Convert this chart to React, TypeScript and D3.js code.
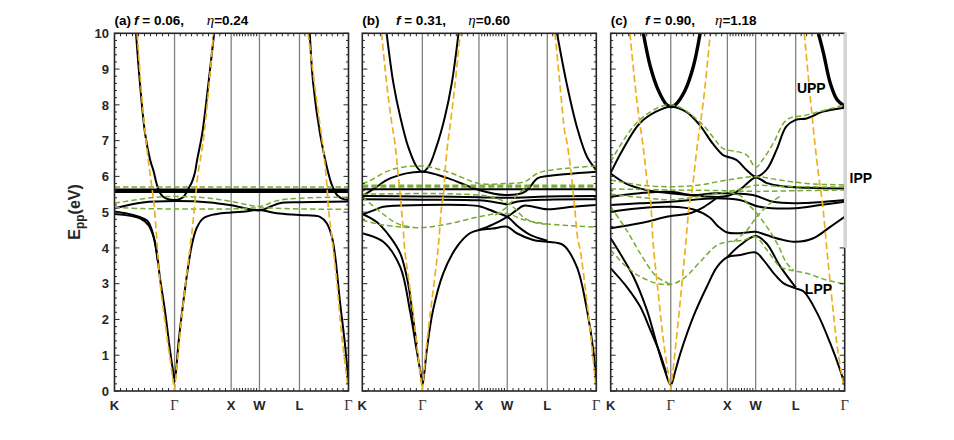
import React from "react";
import * as d3 from "d3";

type Pt = [number, number];

// ---------- axes / labels ----------
const kLabels = ["K", "Γ", "X", "W", "L", "Γ"];
const kNodes = [0, 1.061, 2.061, 2.561, 3.268, 4.134];
const kTickDivs = [10, 10, 10, 7, 9];
const eTicks = [0, 1, 2, 3, 4, 5, 6, 7, 8, 9, 10];
const panelTags = ["(a)", "(b)", "(c)"];
const fValues = ["0.06", "0.31", "0.90"];
const etaValues = ["0.24", "0.60", "1.18"];
const branchLabels: { text: string; k: number; e: number }[] = [
  { text: "UPP", k: 3.29, e: 8.33 },
  { text: "IPP", k: 4.22, e: 5.81 },
  { text: "LPP", k: 3.43, e: 2.71 },
];

// ---------- panel (a) ----------
const aBlack: Pt[][] = [
  [[0,4.95],[0.45,4.83],[0.6,4.64],[0.69,4.31],[0.75,3.85],[0.80,3.2],[0.89,2.26],[0.98,1.15],[1.035,0.55],[1.061,0.26],[1.09,0.6],[1.13,1.33],[1.22,2.54],[1.30,3.47],[1.36,4.03],[1.45,4.55],[1.57,4.83],[1.81,4.95],[2.061,4.99],[2.31,5.02],[2.561,5.06],[2.87,4.97],[3.268,4.92],[3.63,4.87],[3.75,4.69],[3.84,4.31],[3.90,3.75],[3.98,2.54],[4.07,1.33],[4.134,0.2]],
  [[0,5.02],[0.33,4.92],[0.58,4.76],[0.66,4.5],[0.72,4.1],[0.76,3.65]],
  [[0,5.11],[0.5,5.27],[1.061,5.31],[1.69,5.27],[2.061,5.19],[2.561,5.05],[2.75,5.15],[2.92,5.25],[3.268,5.28],[4.134,5.30]],
  [[0.38,10],[0.45,8.6],[0.54,7.2],[0.63,6.46],[0.69,6.15],[0.75,5.76],[0.80,5.55],[0.86,5.43],[0.95,5.36],[1.061,5.34],[1.16,5.37],[1.22,5.43],[1.27,5.55],[1.31,5.67],[1.37,5.85],[1.42,6.1],[1.46,6.46],[1.55,7.2],[1.66,8.6],[1.76,10]],
  [[3.45,10],[3.51,8.6],[3.63,7.2],[3.75,6.27],[3.84,5.76],[3.93,5.48],[4.02,5.38],[4.134,5.34]],
  [[0,5.565],[4.134,5.565]],
  [[0,5.6],[4.134,5.6]],
  [[0,5.635],[4.134,5.635]],
];
const aGreen: Pt[][] = [
  [[0,5.70],[4.134,5.70]],
  [[0,5.25],[0.69,5.41],[1.061,5.44],[1.69,5.39],[2.16,5.27],[2.561,5.16],[2.87,5.32],[3.268,5.39],[4.134,5.42]],
  [[0,5.13],[0.5,5.10],[1.061,5.09],[2.061,5.09],[2.561,5.12],[3.268,5.09],[4.134,5.08]],
];
const aOrange: Pt[][] = [
  [[0.40,10],[0.50,7.9],[0.60,6.4],[0.66,5.7],[0.70,5.2],[0.74,4.4],[0.80,3.1],[0.92,1.6],[1.061,0]],
  [[1.061,0],[1.13,1.15],[1.22,2.54],[1.33,3.94],[1.38,4.6],[1.42,5.25],[1.47,6.0],[1.56,6.9],[1.65,8.2],[1.75,10]],
  [[3.42,10],[3.57,8.14],[3.69,6.74],[3.75,5.8],[3.78,5.1],[3.84,4.3],[3.93,3.01],[4.01,1.61],[4.134,0]],
];

// ---------- panel (b) ----------
const bBlack: Pt[][] = [
  [[0.43,10],[0.55,8.6],[0.67,7.67],[0.81,6.83],[0.96,6.27],[1.061,6.13],[1.17,6.27],[1.31,6.83],[1.46,7.67],[1.58,8.6],[1.70,10]],
  [[3.44,10],[3.61,8.6],[3.79,7.39],[3.97,6.55],[4.134,6.18]],
  [[0,5.45],[0.2,5.65],[0.5,5.95],[1.061,6.13],[1.51,5.95],[2.061,5.62],[2.52,5.48],[2.87,5.57],[3.10,5.95],[3.268,6.01],[4.134,6.13]],
  [[0,5.64],[4.134,5.64]],
  [[0,5.45],[1.061,5.44],[2.061,5.42],[2.561,5.40],[3.268,5.44],[4.134,5.45]],
  [[0,5.36],[1.061,5.35],[2.061,5.33],[2.45,5.25],[2.561,5.22],[2.75,5.30],[3.268,5.35],[4.134,5.36]],
  [[0,4.93],[0.2,5.05],[0.37,5.15],[1.061,5.2],[1.8,5.2],[2.08,5.16],[2.35,5.0],[2.561,4.87],[2.75,4.6],[2.95,4.38],[3.268,4.2]],
  [[2.061,4.50],[2.3,4.65],[2.561,4.87],[2.72,5.05],[2.85,5.18],[3.268,5.08],[3.7,5.15],[4.134,5.2]],
  [[0,4.41],[0.37,4.17],[0.67,3.47],[0.84,2.26],[0.96,1.15],[1.03,0.5],[1.061,0.17],[1.095,0.5],[1.14,1.15],[1.25,2.26],[1.43,3.29],[1.67,4.03],[1.90,4.41],[2.061,4.50],[2.30,4.54],[2.561,4.59],[2.73,4.41],[3.02,4.22],[3.268,4.17],[3.55,4.08],[3.79,3.47],[3.97,2.26],[4.08,1.15],[4.134,0.21]],
  [[0,4.95],[0.25,4.73],[0.49,4.31],[0.67,3.85],[0.81,3.0],[0.90,2.0],[0.96,1.3]],
];
const bGreen: Pt[][] = [
  [[0,5.80],[0.10,5.85],[0.5,6.18],[1.061,6.29],[1.57,6.09],[2.061,5.80],[2.52,5.80],[2.87,5.85],[3.10,6.09],[3.45,6.2],[4.134,6.29]],
  [[0,4.78],[0.37,4.64],[1.061,4.57],[1.57,4.69],[2.061,4.87],[2.52,4.97],[2.87,4.78],[3.28,4.67],[4.134,4.58]],
  [[0,5.42],[0.28,5.06],[0.51,4.78],[0.69,4.64],[0.9,4.58]],
  [[0,5.5],[1.061,5.52],[1.8,5.5],[2.28,5.43],[2.52,5.29],[2.69,5.11],[2.87,4.83],[3.10,4.69],[3.28,4.67]],
  [[2.35,4.92],[2.561,5.15],[2.75,5.5],[2.95,5.75]],
];
const bGreenThick: Pt[][] = [
  [[0,5.73],[4.134,5.73]],
];
const bOrange: Pt[][] = [
  [[0.34,10],[0.43,8.6],[0.51,7.6],[0.57,7.0],[0.63,6.1],[0.67,5.5],[0.69,5.1],[0.72,4.6],[0.75,3.94],[0.87,2.54],[0.96,1.33],[1.061,0]],
  [[1.061,0],[1.14,1.33],[1.23,2.54],[1.34,4.0],[1.40,5.15],[1.435,5.5],[1.46,6.09],[1.50,6.8],[1.55,7.4],[1.64,8.6],[1.73,10]],
  [[3.405,10],[3.49,8.6],[3.58,7.2],[3.61,7.0],[3.69,6.09],[3.75,5.15],[3.81,4.22],[3.85,3.94],[3.965,2.54],[4.05,1.33],[4.134,0]],
];

// ---------- panel (c) ----------
const cBlackThick: Pt[][] = [
  [[0.577,10],[0.70,9.07],[0.84,8.41],[0.99,8.0],[1.061,7.95],[1.14,8.0],[1.315,8.41],[1.46,9.07],[1.58,10]],
  [[3.67,10],[3.76,9.44],[3.88,8.6],[4.0,8.14],[4.134,7.96]],
];
const cBlack: Pt[][] = [
  [[0,6.1],[0.21,6.74],[0.51,7.48],[0.80,7.81],[1.061,7.95],[1.33,7.81],[1.57,7.44],[1.80,6.92],[1.98,6.6],[2.061,6.55],[2.22,6.46],[2.40,6.18],[2.561,5.99],[2.75,6.18],[2.93,6.74],[3.10,7.39],[3.268,7.58],[3.46,7.62],[3.75,7.81],[4.134,7.92]],
  [[0,6.08],[0.27,5.8],[0.63,5.62],[1.061,5.53],[1.57,5.45],[2.061,5.45],[2.3,5.65],[2.561,5.97],[2.75,5.82],[3.0,5.73],[3.5,5.68],[4.134,5.66]],
  [[0,5.43],[0.51,5.53],[1.061,5.57],[1.45,5.48],[1.86,5.53],[2.51,5.48],[2.87,5.29],[3.268,5.25],[3.7,5.28],[4.134,5.34]],
  [[0,5.2],[0.51,5.25],[1.061,5.29],[1.86,5.39],[2.28,5.34],[2.63,5.15],[3.268,5.11],[3.7,5.2],[4.134,5.29]],
  [[0,5.01],[0.51,5.11],[1.061,5.15],[1.45,5.08],[1.75,4.85],[1.9,4.6],[2.061,4.43],[2.28,4.41],[2.561,4.45],[2.75,4.36],[3.0,4.24],[3.268,4.17],[3.58,4.27],[3.88,4.59],[4.134,4.87]],
  [[0,4.55],[0.51,4.69],[1.061,4.89],[1.4,4.97],[1.65,5.15],[1.86,5.38]],
  [[0,4.27],[0.165,3.85],[0.40,3.2],[0.64,2.26],[0.81,1.33],[0.95,0.6],[1.061,0.17],[1.14,0.55],[1.23,1.05],[1.46,2.08],[1.70,2.92],[1.88,3.47],[2.061,3.74],[2.29,3.8],[2.561,3.87],[2.70,3.66],[2.88,3.29],[3.055,3.01],[3.268,2.87],[3.41,2.78],[3.65,2.17],[3.88,1.33],[4.05,0.6],[4.134,0.17]],
  [[0,3.43],[0.28,2.92],[0.52,2.36],[0.70,1.71],[0.87,1.05],[0.98,0.5]],
  [[2.061,3.74],[2.29,4.08],[2.561,4.33],[2.75,4.13],[3.0,3.47],[3.268,2.90]],
];
const cGreen: Pt[][] = [
  [[0,6.41],[0.51,7.58],[1.061,8.0],[1.57,7.53],[1.98,6.78],[2.061,6.74],[2.40,6.6],[2.561,6.25],[2.70,6.5],[2.87,6.92],[3.11,7.58],[3.47,7.72],[4.134,8.0]],
  [[0,5.9],[0.51,5.76],[1.061,5.71],[1.57,5.76],[2.061,5.9],[2.561,5.99],[2.98,5.9],[3.46,5.8],[4.134,5.76]],
  [[0,5.65],[1.061,5.62],[2.061,5.6],[2.561,5.58],[3.268,5.6],[4.134,5.62]],
  [[0,5.5],[0.6,5.4],[1.061,5.35],[1.8,5.5],[2.3,5.65],[2.561,5.75],[3.0,5.72],[4.134,5.7]],
  [[2.17,4.17],[2.41,4.5],[2.58,4.87],[2.82,5.25],[3.0,5.45]],
  [[2.1,5.55],[2.3,5.45],[2.41,5.25],[2.58,4.97],[2.76,4.59],[2.94,4.13],[3.11,3.57],[3.23,3.38]],
  [[0,3.94],[0.28,3.47],[0.52,3.2],[0.81,3.01],[1.061,2.98],[1.29,3.15],[1.58,3.61],[1.88,4.08],[2.07,4.17],[2.35,4.22],[2.561,4.31],[2.76,3.94],[3.0,3.47],[3.17,3.38],[3.46,3.29],[3.82,3.1],[4.134,2.99]],
  [[0,5.15],[0.28,4.5],[0.52,3.85],[0.81,3.2],[1.061,2.98]],
];
const cOrange: Pt[][] = [
  [[0.34,10],[0.46,8.14],[0.58,6.74],[0.67,5.53],[0.70,5.34],[0.75,4.13],[0.84,2.73],[0.93,1.43],[1.061,0]],
  [[1.061,0],[1.14,1.15],[1.23,2.54],[1.315,3.94],[1.40,5.34],[1.43,5.53],[1.52,6.74],[1.64,8.14],[1.76,10]],
  [[3.42,10],[3.53,8.14],[3.62,6.74],[3.70,5.71],[3.735,5.34],[3.82,3.94],[3.91,2.54],[4.01,1.15],[4.134,0]],
];

// ---------- layout ----------
const W = 954, H = 440;
const panelX = [114.5, 362.3, 610.7];
const panelW = 234;
const TOP = 33.3, BOTTOM = 391;
const fOffset = [19.5, 33.7, 34.3];
const etaOffset = [92.2, 106, 104.3];
const BLACK = "#000";
const GREEN = "#77AC30";
const ORANGE = "#EDB120";
const SANS = "'Liberation Sans', Arial, Helvetica, sans-serif";
const SERIF = "'Liberation Serif', 'Times New Roman', serif";

const panels = [
  { black: aBlack, blackThick: [] as Pt[][], green: aGreen, greenThick: [] as Pt[][], orange: aOrange },
  { black: bBlack, blackThick: [] as Pt[][], green: bGreen, greenThick: bGreenThick, orange: bOrange },
  { black: cBlack, blackThick: cBlackThick, green: cGreen, greenThick: [] as Pt[][], orange: cOrange },
];

const x = d3.scaleLinear().domain([kNodes[0], kNodes[kNodes.length - 1]]).range([0, panelW]);
const y = d3.scaleLinear().domain([0, 10]).range([BOTTOM, TOP]);
const line = d3
  .line<Pt>()
  .x((d) => x(d[0]))
  .y((d) => y(d[1]))
  .curve(d3.curveCatmullRom.alpha(0.5));

const xMinor: number[] = [];
kTickDivs.forEach((n, s) => {
  for (let j = 1; j < n; j++) xMinor.push(kNodes[s] + ((kNodes[s + 1] - kNodes[s]) * j) / n);
});
const yMinor: number[] = d3.range(1, 50).map((i) => i * 0.2).filter((v) => Math.abs(v - Math.round(v)) > 0.01);

function Panel({ i }: { i: number }) {
  const p = panels[i];
  const x0 = panelX[i];
  const clipId = `clip${i}`;
  const isC = i === 2;
  const grayTopE = 4.0;
  return (
    <g transform={`translate(${x0},0)`}>
      <defs>
        <clipPath id={clipId}>
          <rect x={0} y={TOP} width={panelW} height={BOTTOM - TOP} />
        </clipPath>
      </defs>
      <rect x={0} y={TOP} width={panelW} height={BOTTOM - TOP} fill="#fff" />
      {kNodes.slice(1, -1).map((k, j) => (
        <line key={j} x1={x(k)} x2={x(k)} y1={TOP} y2={BOTTOM} stroke="#808080" strokeWidth={1.3} />
      ))}
      <g clipPath={`url(#${clipId})`} fill="none" strokeLinejoin="round">
        {p.black.map((c, j) => (
          <path key={"b" + j} d={line(c) || ""} stroke={BLACK} strokeWidth={2} />
        ))}
        {p.blackThick.map((c, j) => (
          <path key={"bt" + j} d={line(c) || ""} stroke={BLACK} strokeWidth={3.4} />
        ))}
        {p.green.map((c, j) => (
          <path key={"g" + j} d={line(c) || ""} stroke={GREEN} strokeWidth={1.5} strokeDasharray="5.5,3" />
        ))}
        {p.greenThick.map((c, j) => (
          <path key={"gt" + j} d={line(c) || ""} stroke={GREEN} strokeWidth={3.2} strokeDasharray="6,3" />
        ))}
        {p.orange.map((c, j) => (
          <path key={"o" + j} d={line(c) || ""} stroke={ORANGE} strokeWidth={1.7} strokeDasharray="7,3.5" />
        ))}
      </g>
      <g stroke="#262626" strokeWidth={1}>
        {eTicks.map((v) => (
          <g key={"ym" + v}>
            <line x1={0} x2={5} y1={y(v)} y2={y(v)} />
            {(!isC || v <= grayTopE) && <line x1={panelW} x2={panelW - 5} y1={y(v)} y2={y(v)} />}
          </g>
        ))}
        {yMinor.map((v) => (
          <g key={"yn" + v}>
            <line x1={0} x2={2.5} y1={y(v)} y2={y(v)} />
            {(!isC || v <= grayTopE) && <line x1={panelW} x2={panelW - 2.5} y1={y(v)} y2={y(v)} />}
          </g>
        ))}
        {xMinor.map((k, j) => (
          <g key={"xm" + j}>
            <line x1={x(k)} x2={x(k)} y1={BOTTOM} y2={BOTTOM - 3} />
            <line x1={x(k)} x2={x(k)} y1={TOP} y2={TOP + 3} />
          </g>
        ))}
      </g>
      <rect x={0} y={TOP} width={panelW} height={BOTTOM - TOP} fill="none" stroke="#262626" strokeWidth={1.6} />
      {isC && (
        <rect x={panelW - 0.8} y={TOP - 0.8} width={3} height={y(grayTopE) - TOP + 0.8} fill="#d4d4d4" />
      )}
      {kLabels.map((lab, j) =>
        lab === "Γ" ? (
          <text key={j} x={x(kNodes[j])} y={410} textAnchor="middle" fontFamily={SERIF} fontSize={14.5} fill="#333">
            {lab}
          </text>
        ) : (
          <text key={j} x={x(kNodes[j])} y={410} textAnchor="middle" fontFamily={SANS} fontWeight="bold" fontSize={13} fill="#262626">
            {lab}
          </text>
        )
      )}
      <text x={0} y={25} fontFamily={SANS} fontWeight="bold" fontSize={13.5} fill="#000">
        {panelTags[i]}
      </text>
      <text x={fOffset[i]} y={25} fontFamily={SANS} fontWeight="bold" fontSize={13.5} fill="#000">
        <tspan fontStyle="italic">f</tspan>
        {` = ${fValues[i]},`}
      </text>
      <text x={etaOffset[i]} y={25} fontFamily={SANS} fontWeight="bold" fontSize={13.5} fill="#000">
        <tspan fontFamily={SERIF} fontStyle="italic" fontWeight="normal" fontSize={15}>η</tspan>
        {`=${etaValues[i]}`}
      </text>
      {isC &&
        branchLabels.map((b) => (
          <text key={b.text} x={x(b.k)} y={y(b.e)} fontFamily={SANS} fontWeight="bold" fontSize={14} fill="#000">
            {b.text}
          </text>
        ))}
    </g>
  );
}

export default function App() {
  return (
    <svg width={W} height={H} viewBox={`0 0 ${W} ${H}`} style={{ position: "absolute", left: 0, top: 0, background: "#fff" }}>
      <rect x={0} y={0} width={W} height={H} fill="#fff" />
      {[0, 1, 2].map((i) => (
        <Panel key={i} i={i} />
      ))}
      {eTicks.map((v) => (
        <text key={v} x={109} y={y(v)} dy="0.36em" textAnchor="end" fontFamily={SANS} fontWeight="bold" fontSize={13} fill="#262626">
          {v}
        </text>
      ))}
      <text transform="translate(80,212) rotate(-90)" textAnchor="middle" fontFamily={SANS} fontWeight="bold" fontSize={16} fill="#262626">
        E<tspan fontSize={12} dy={4}>pp</tspan>
        <tspan dy={-4}>(eV)</tspan>
      </text>
    </svg>
  );
}
